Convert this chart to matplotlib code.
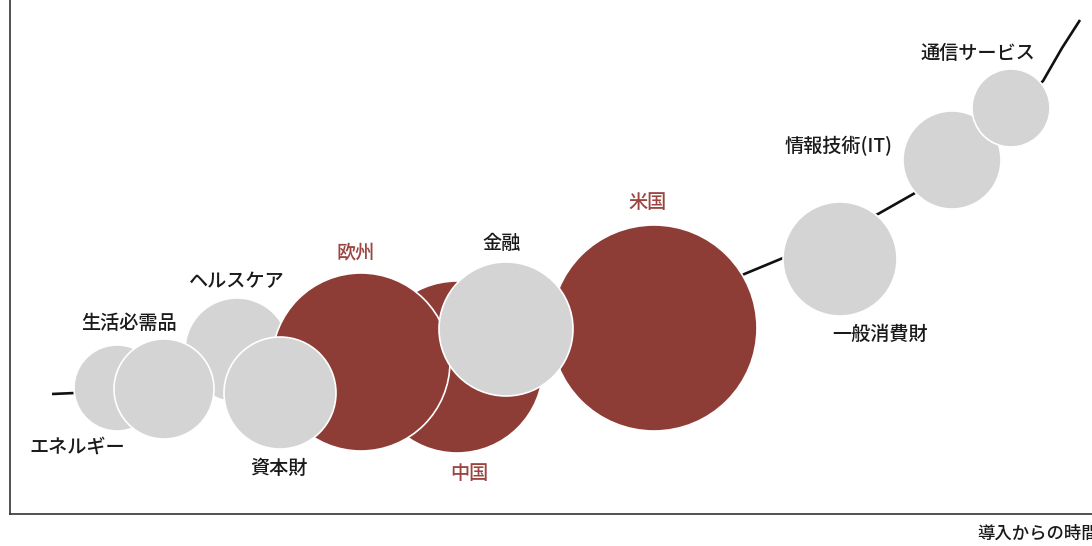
import matplotlib.pyplot as plt
from matplotlib.patches import Circle

plt.rcParams['font.family'] = ['Noto Sans CJK JP', 'DejaVu Sans']

# Bubbles, in draw order (later ones sit on top)
names = ['エネルギー', 'ヘルスケア', '中国', '欧州', '生活必需品', '資本財',
         '米国', '金融', '一般消費財', '情報技術(IT)', '通信サービス']
cx = [107, 227, 447, 351, 154, 270, 644, 496, 830, 942, 1001]
cy = [126, 164, 147, 152, 125, 121, 186, 185, 255, 354, 406]
rad = [43, 52, 86, 89, 50, 56, 103, 67, 57, 49, 39]
is_region = [False, False, True, True, False, False, True, False, False, False, False]

# label anchor points
lx = [67, 227, 459, 346, 119, 269, 638, 492, 870, 829, 968]
ly = [67, 233, 41, 262, 191, 46, 312, 271, 180, 368, 461]

# the adoption curve (only the bits between bubbles show)
curve_x = [42, 65, 190, 390, 590, 732, 773, 868, 905, 1033, 1052, 1070]
curve_y = [120, 121, 126, 144, 179, 239, 256, 300, 321, 433, 466, 494]

red = '#8E3C36'
grey = '#D4D4D4'

fig = plt.figure(figsize=(10.92, 5.46), dpi=100)
ax = fig.add_axes([10 / 1092, 32 / 546, 1082 / 1092, 514 / 546])
ax.set_xlim(0, 1082)
ax.set_ylim(0, 514)

ax.plot(curve_x, curve_y, color='#111111', lw=1.9, zorder=1, solid_capstyle='butt')

for i in range(len(names)):
    fc = red if is_region[i] else grey
    ax.add_patch(Circle((cx[i], cy[i]), rad[i], facecolor=fc,
                        edgecolor='white', lw=1.2, zorder=2 + i))
    tc = '#9A4540' if is_region[i] else '#1a1a1a'
    ax.text(lx[i], ly[i], names[i], color=tc, fontsize=13.8, fontweight='medium',
            ha='center', va='center', zorder=20)

ax.set_xticks([])
ax.set_yticks([])
for s in ['top', 'right']:
    ax.spines[s].set_visible(False)
for s in ['left', 'bottom']:
    ax.spines[s].set_color('#333333')
    ax.spines[s].set_linewidth(1.2)

fig.text(977 / 1092, 1 - 534 / 546, '導入からの時間', fontsize=12.5,
         fontweight='medium', ha='left', va='center', color='#1a1a1a')

fig.savefig('out.png', dpi=100)
